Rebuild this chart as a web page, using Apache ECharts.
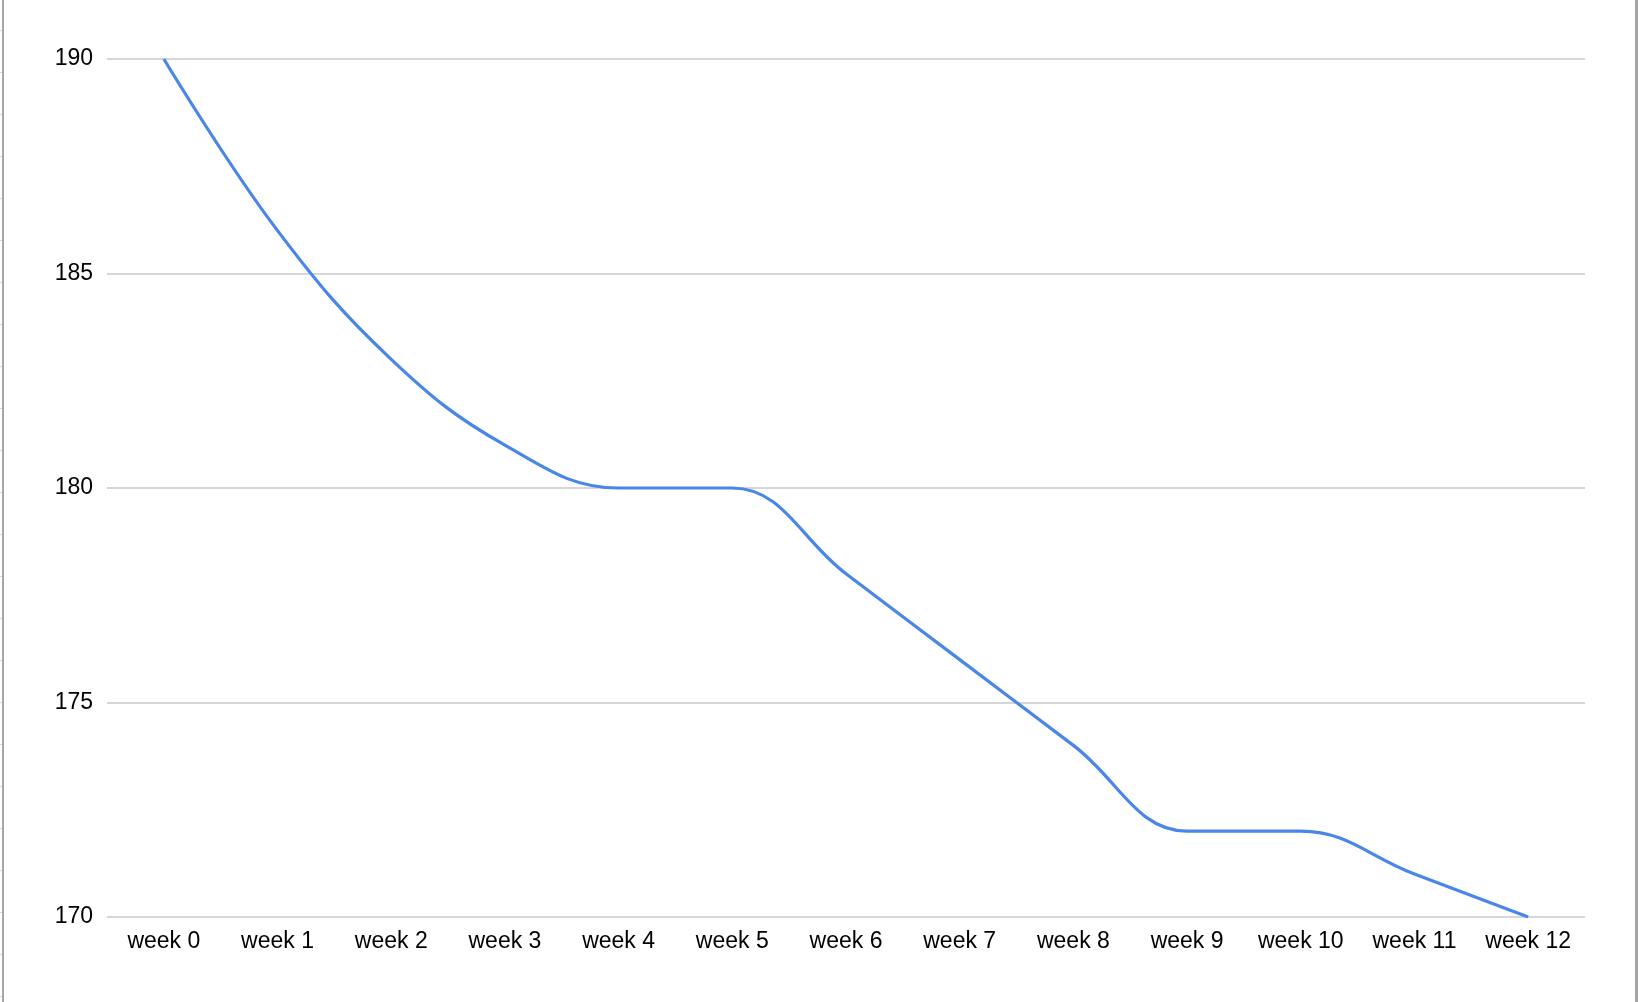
<!DOCTYPE html>
<html>
<head>
<meta charset="utf-8">
<script src="https://cdn.jsdelivr.net/npm/echarts@6/dist/echarts.min.js"></script>
<style>
    html, body { margin: 0; padding: 0; background: #fff; }
    #chart { position: absolute; left: 0; top: 0; width: 1638px; height: 1002px; }
    /* sheet edges left and right */
    .edgeLeft { position: absolute; left: 2px; top: 0; width: 2px; height: 1002px; background: #a6a6a6; }
    .rowTicks { position: absolute; left: 0; top: 0; width: 2px; height: 1002px;
        background: repeating-linear-gradient(to bottom, transparent 0px, transparent 30px, #d9d9d9 30px, #d9d9d9 31px, transparent 31px, transparent 42px); }
    .edgeRight { position: absolute; left: 1635px; top: 0; width: 3px; height: 1002px; background: #a6a6a6; }
</style>
</head>
<body>
<div id="chart"></div>
<div class="edgeLeft"></div>
<div class="rowTicks"></div>
<div class="edgeRight"></div>
<script>
var weeks = ['week 0', 'week 1', 'week 2', 'week 3', 'week 4', 'week 5', 'week 6',
             'week 7', 'week 8', 'week 9', 'week 10', 'week 11', 'week 12'];
var weight = [190, 186, 183, 181, 180, 180, 178, 176, 174, 172, 172, 171, 170];
var yTicks = [170, 175, 180, 185, 190];

var myChart = echarts.init(document.getElementById('chart'));
myChart.setOption({
    animation: false,
    grid: { left: 107, right: 53, top: 59, bottom: 85, containLabel: false },
    xAxis: {
        type: 'category',
        data: weeks,
        boundaryGap: true,
        axisLine: { show: false },
        axisTick: { show: false },
        axisLabel: {
            interval: 0,
            margin: 13,
            color: '#000',
            fontFamily: 'Liberation Sans, Arial, sans-serif',
            fontSize: 23
        },
        splitLine: { show: false }
    },
    yAxis: {
        type: 'value',
        min: yTicks[0],
        max: yTicks[yTicks.length - 1],
        interval: 5,
        axisLine: { show: false },
        axisTick: { show: false },
        axisLabel: {
            margin: 14,
            color: '#000',
            fontFamily: 'Liberation Sans, Arial, sans-serif',
            fontSize: 23
        },
        splitLine: { lineStyle: { color: '#c8c8c8', width: 1.5 } }
    },
    series: [{
        name: 'weight',
        type: 'line',
        data: weight,
        smooth: 0.4,
        showSymbol: false,
        lineStyle: { color: '#4a86e8', width: 3.2 },
        itemStyle: { color: '#4a86e8' }
    }]
});
</script>
</body>
</html>
